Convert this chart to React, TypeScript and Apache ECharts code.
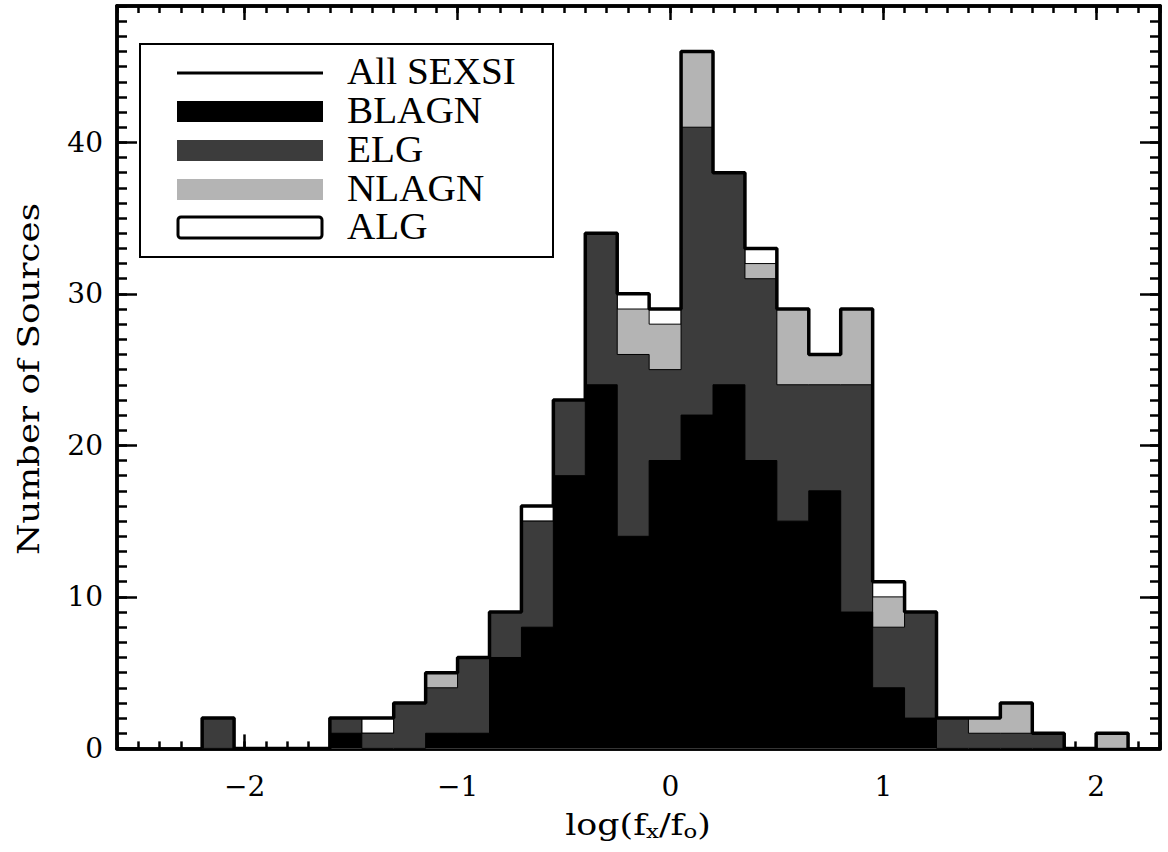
import React, { useEffect, useRef } from "react";
import * as echarts from "echarts";

// Histogram binning (log(fx/fo)), bin left edge of first bin and width
const BIN_START = -2.2;
const BIN_WIDTH = 0.15;

// Counts per bin, by class
const blagn = [0, 0, 0, 0, 1, 0, 0, 1, 1, 6, 8, 18, 24, 14, 19, 22, 24, 19, 15, 17, 9, 4, 2, 0, 0, 0, 0, 0, 0];
const elg = [2, 0, 0, 0, 1, 1, 3, 3, 5, 3, 7, 5, 10, 12, 6, 19, 14, 12, 9, 7, 15, 4, 7, 2, 1, 1, 1, 0, 0];
const nlagn = [0, 0, 0, 0, 0, 0, 0, 1, 0, 0, 0, 0, 0, 3, 3, 5, 0, 1, 5, 2, 5, 2, 0, 0, 1, 2, 0, 0, 1];
const alg = [0, 0, 0, 0, 0, 1, 0, 0, 0, 0, 1, 0, 0, 1, 1, 0, 0, 1, 0, 0, 0, 1, 0, 0, 0, 0, 0, 0, 0];

const xTicks = [-2, -1, 0, 1, 2];
const yTicks = [0, 10, 20, 30, 40];

const legendItems = ["All SEXSI", "BLAGN", "ELG", "NLAGN", "ALG"];
const COLORS = { blagn: "#000000", elg: "#3c3c3c", nlagn: "#b4b4b4", alg: "#ffffff" };

const X_MIN = -2.6;
const X_MAX = 2.3;
const Y_MIN = 0;
const Y_MAX = 49;

const edges = Array.from({ length: blagn.length + 1 }, (_, i) =>
  Math.round((BIN_START + i * BIN_WIDTH) * 1000) / 1000
);

function cumulative(...arrs: number[][]) {
  return arrs[0].map((_, i) => arrs.reduce((s, a) => s + a[i], 0));
}

function stepData(vals: number[]) {
  const d: number[][] = [[edges[0], 0]];
  vals.forEach((v, i) => d.push([edges[i], v]));
  d.push([edges[vals.length], 0]);
  return d;
}

const c1 = blagn;
const c2 = cumulative(blagn, elg);
const c3 = cumulative(blagn, elg, nlagn);
const c4 = cumulative(blagn, elg, nlagn, alg);

export default function App() {
  const ref = useRef<HTMLDivElement>(null);
  useEffect(() => {
    if (!ref.current) return;
    const chart = echarts.init(ref.current, null, { renderer: "svg" });
    const AX = { color: "#000", width: 3.5 };
    const TK = { color: "#000", width: 2.5 };
    const fmt = (v: number) => String(v).replace("-", "\u2212");

    const xBase = { type: "value", min: X_MIN, max: X_MAX, splitLine: { show: false }, axisLine: { show: true, onZero: false, lineStyle: AX } };
    const yBase = { type: "value", min: Y_MIN, max: Y_MAX, splitLine: { show: false }, axisLine: { show: true, onZero: false, lineStyle: AX } };

    const area = (data: number[][], color: string, z: number) => ({
      type: "line",
      step: "end",
      data,
      symbol: "none",
      showSymbol: false,
      silent: true,
      z,
      lineStyle: { color: "#000", width: 1 },
      areaStyle: { color, opacity: 1 },
      xAxisIndex: 0,
      yAxisIndex: 0,
    });

    const legendX = 177;
    const rowY = [72, 111, 150, 189, 227];
    const graphic: any[] = [
      { type: "rect", shape: { x: 140, y: 44, width: 413, height: 213 }, style: { fill: "#fff", stroke: "#000", lineWidth: 2 }, z: 10 },
      { type: "line", shape: { x1: legendX, y1: rowY[0] + 1, x2: 323, y2: rowY[0] + 1 }, style: { stroke: "#000", lineWidth: 3 }, z: 11 },
      { type: "rect", shape: { x: legendX, y: rowY[1] - 10, width: 146, height: 21 }, style: { fill: COLORS.blagn }, z: 11 },
      { type: "rect", shape: { x: legendX, y: rowY[2] - 10, width: 146, height: 21 }, style: { fill: COLORS.elg }, z: 11 },
      { type: "rect", shape: { x: legendX, y: rowY[3] - 10, width: 146, height: 21 }, style: { fill: COLORS.nlagn }, z: 11 },
      { type: "rect", shape: { x: legendX + 1, y: rowY[4] - 10, width: 144, height: 21, r: 3 }, style: { fill: COLORS.alg, stroke: "#000", lineWidth: 3 }, z: 11 },
      ...legendItems.map((t, i) => ({
        type: "text",
        x: 347,
        y: rowY[i] - 1,
        scaleX: 1.06,
        z: 11,
        style: { text: t, fontFamily: "Liberation Serif", fontSize: 37, fill: "#000", align: "left", verticalAlign: "middle" },
      })),
      {
        type: "text",
        x: 29,
        y: 379,
        rotation: Math.PI / 2,
        scaleX: 1.19,
        style: { text: "Number of Sources", fontFamily: "DejaVu Serif", fontSize: 30, fill: "#000", align: "center", verticalAlign: "middle" },
      },
      {
        type: "text",
        x: 638,
        y: 826,
        scaleX: 1.2,
        style: {
          text: "{m|log(f}{s|x}{m|/f}{s|o}{m|)}",
          align: "center",
          verticalAlign: "middle",
          rich: {
            m: { fontFamily: "DejaVu Serif", fontSize: 29, fill: "#000", lineHeight: 30, verticalAlign: "top" },
            s: { fontFamily: "DejaVu Serif", fontSize: 19, fill: "#000", lineHeight: 20, padding: [14, 0, 0, 0], verticalAlign: "bottom" },
          },
        },
      },
    ];

    chart.setOption({
      animation: false,
      backgroundColor: "#fff",
      grid: { left: 117, top: 6, width: 1043, height: 742.4, containLabel: false, outerBoundsMode: "none" },
      xAxis: [
        {
          ...xBase,
          position: "bottom",
          axisTick: { show: true, inside: true, length: 14, lineStyle: TK, customValues: xTicks },
          axisLabel: { show: true, customValues: xTicks, formatter: fmt, fontFamily: "DejaVu Serif", fontSize: 28, color: "#000", margin: 24 },
        },
        {
          ...xBase,
          position: "bottom",
          interval: 0.1,
          axisTick: { show: true, inside: true, length: 7, lineStyle: TK },
          axisLabel: { show: false },
        },
        {
          ...xBase,
          position: "top",
          axisTick: { show: true, inside: true, length: 14, lineStyle: TK, customValues: xTicks },
          axisLabel: { show: false, customValues: xTicks },
        },
        {
          ...xBase,
          position: "top",
          interval: 0.1,
          axisTick: { show: true, inside: true, length: 7, lineStyle: TK },
          axisLabel: { show: false },
        },
      ],
      yAxis: [
        {
          ...yBase,
          position: "left",
          axisTick: { show: true, inside: true, length: 20, lineStyle: TK, customValues: yTicks },
          axisLabel: { show: true, customValues: yTicks, fontFamily: "DejaVu Serif", fontSize: 28, color: "#000", margin: 14 },
        },
        {
          ...yBase,
          position: "left",
          interval: 1,
          axisTick: { show: true, inside: true, length: 10, lineStyle: TK },
          axisLabel: { show: false },
        },
        {
          ...yBase,
          position: "right",
          axisTick: { show: true, inside: true, length: 20, lineStyle: TK, customValues: yTicks },
          axisLabel: { show: false, customValues: yTicks },
        },
        {
          ...yBase,
          position: "right",
          interval: 1,
          axisTick: { show: true, inside: true, length: 10, lineStyle: TK },
          axisLabel: { show: false },
        },
      ],
      series: [
        area(stepData(c4), COLORS.alg, 2),
        area(stepData(c3), COLORS.nlagn, 3),
        area(stepData(c2), COLORS.elg, 4),
        area(stepData(c1), COLORS.blagn, 5),
        {
          type: "line",
          step: "end",
          data: stepData(c4),
          symbol: "none",
          showSymbol: false,
          silent: true,
          z: 6,
          lineStyle: { color: "#000", width: 3.5 },
          xAxisIndex: 0,
          yAxisIndex: 0,
        },
      ],
      graphic,
    });
    return () => chart.dispose();
  }, []);
  return <div ref={ref} style={{ position: "fixed", left: 0, top: 0, width: 1168, height: 852 }} />;
}
